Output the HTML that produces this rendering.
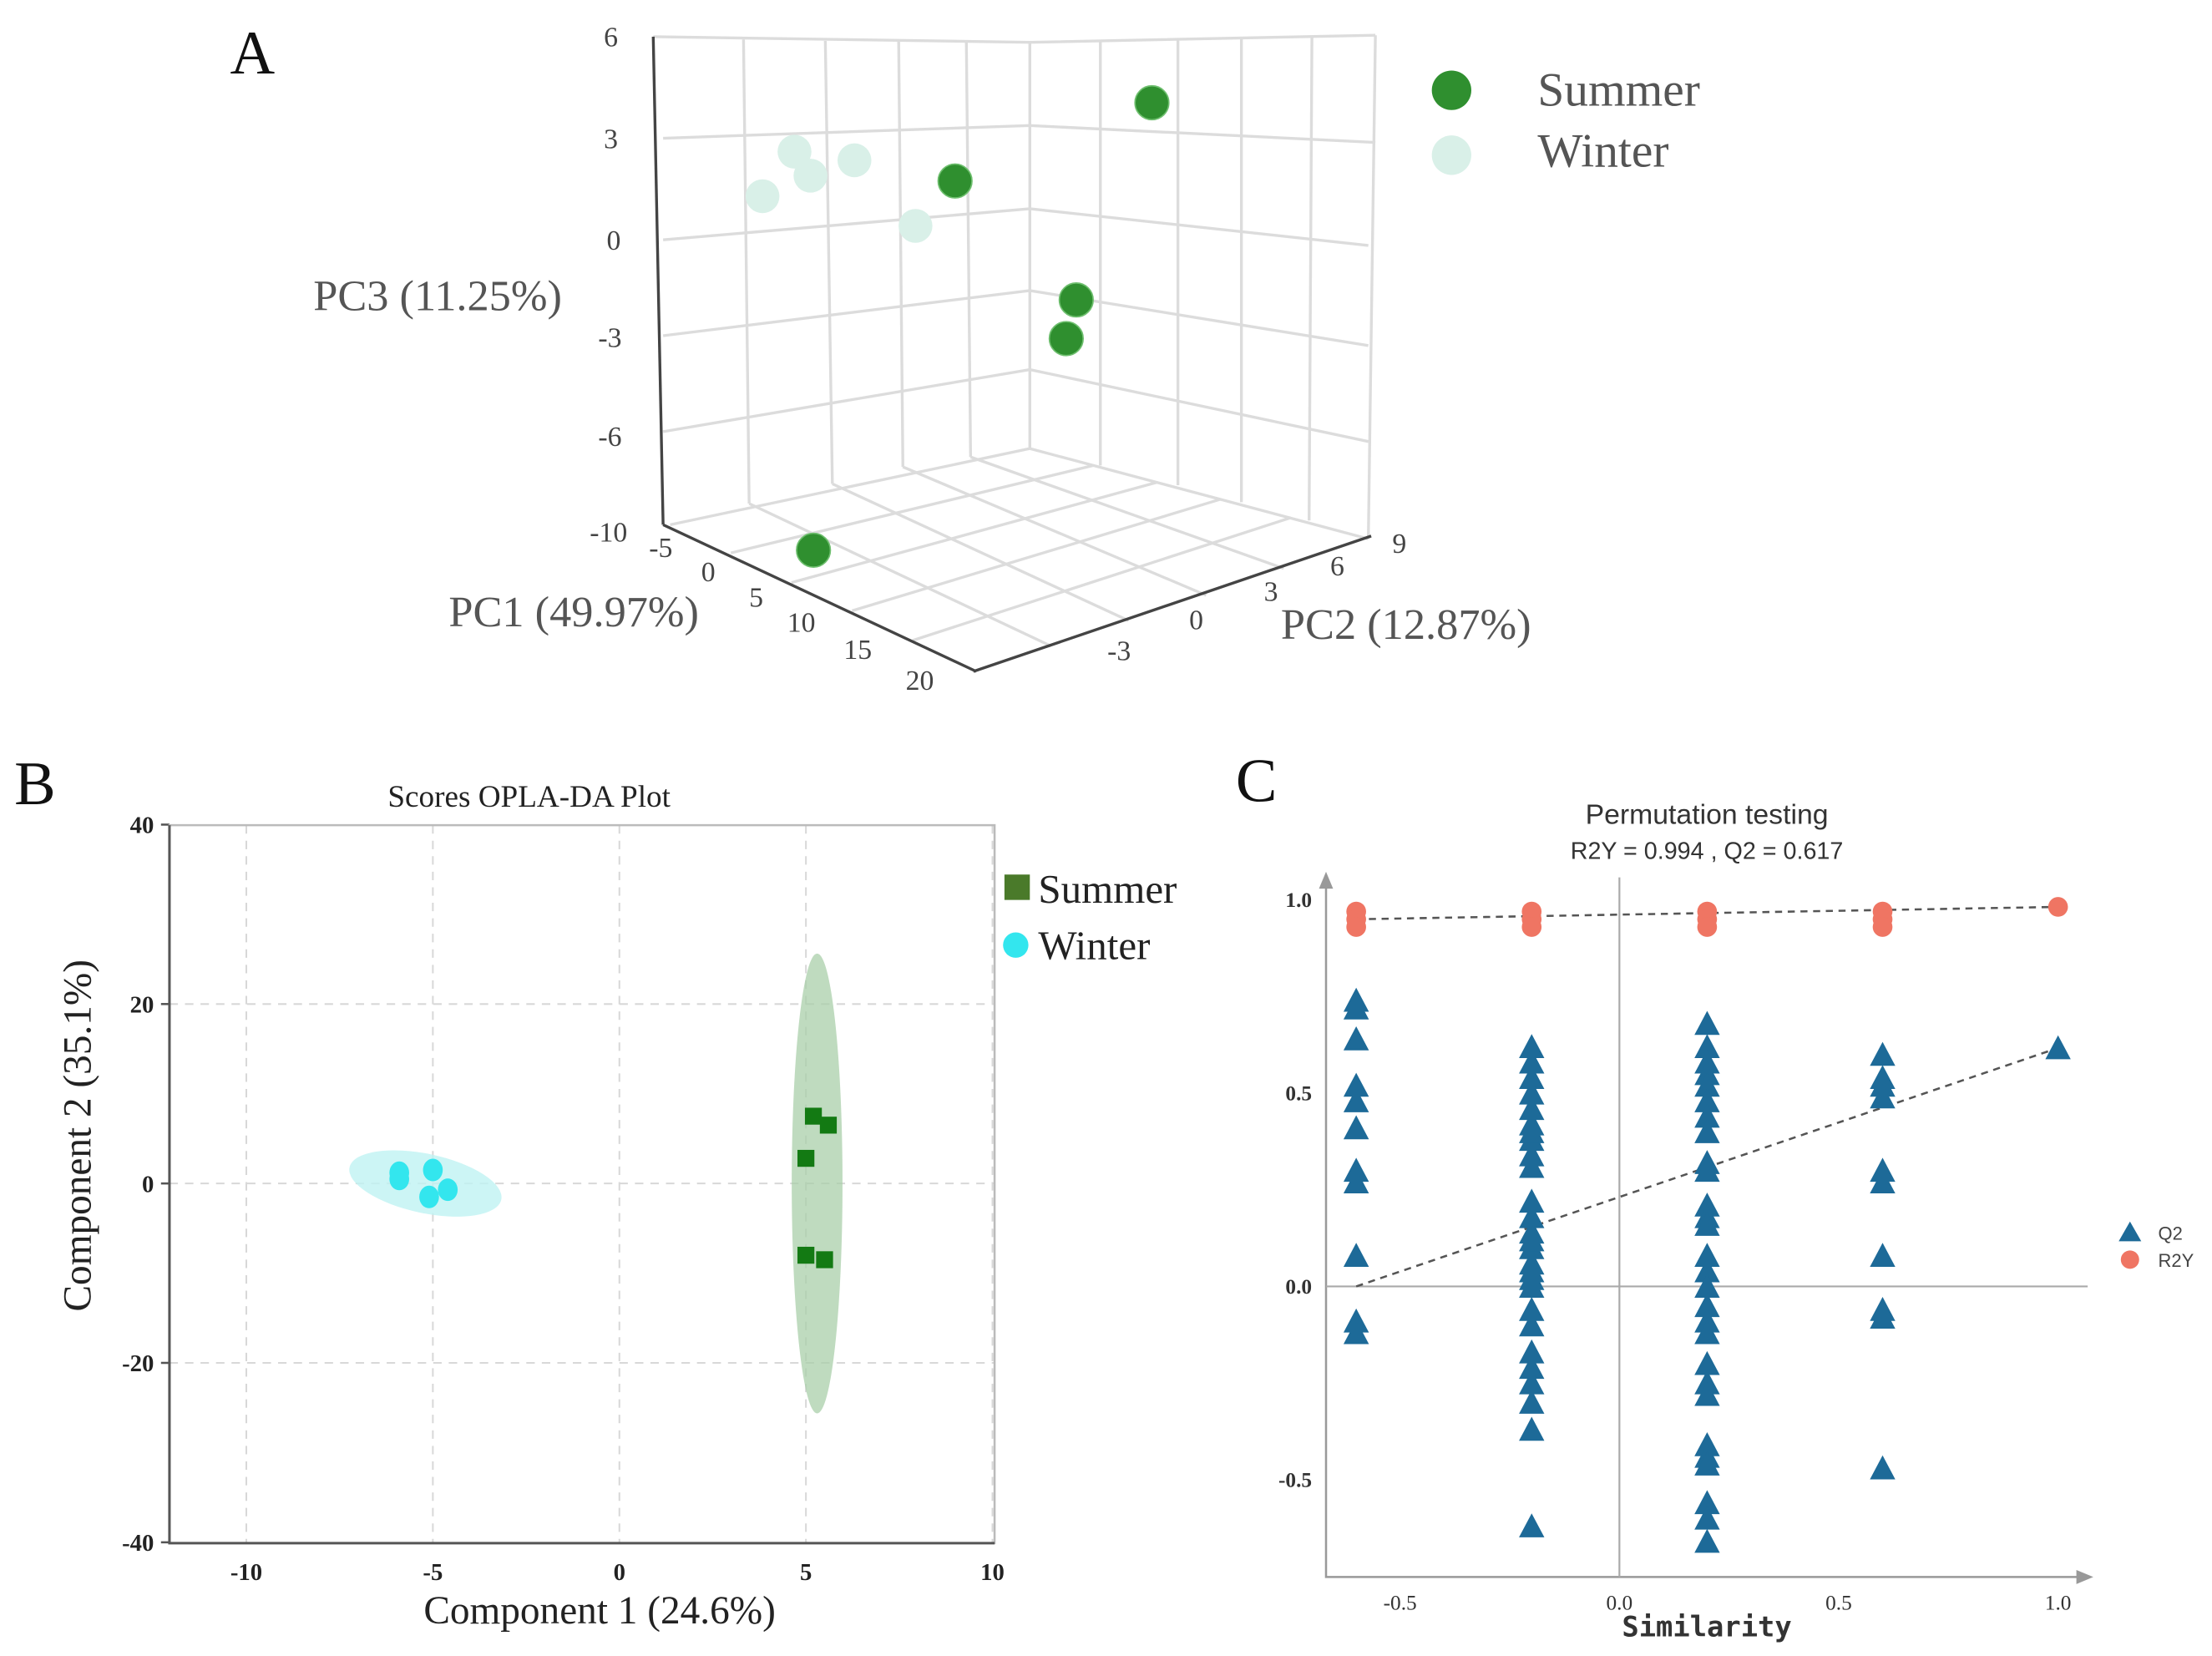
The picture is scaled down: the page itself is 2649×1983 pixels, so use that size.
<!DOCTYPE html>
<html><head><meta charset="utf-8"><style>
html,body{margin:0;padding:0;background:#fff}
svg{display:block}
.serif{font-family:"Liberation Serif",serif}
.sans{font-family:"Liberation Sans",sans-serif}
</style></head><body>
<svg id="fig" xmlns="http://www.w3.org/2000/svg" width="2649" height="1983" viewBox="0 0 1568 1174">
<rect x="0" y="0" width="1568" height="1174" fill="#fff"/>
<g id="panelA">
<text x="163" y="52" class="serif" font-size="44" fill="#111">A</text>
<g stroke="#dcdcdc" stroke-width="2" fill="none">
<polyline points="463,26 730,30 975,25"/>
<polyline points="470,98 730,89 975,101"/>
<polyline points="470,170 730,148 970,174"/>
<polyline points="470,238 730,206 970,245"/>
<polyline points="470,306 730,262 970,313"/>
<line x1="730" y1="30" x2="730" y2="318"/>
<line x1="975" y1="25" x2="970" y2="382"/>
<line x1="527" y1="28" x2="531" y2="357"/><line x1="585" y1="29" x2="590" y2="343"/>
<line x1="637" y1="29" x2="640" y2="331"/><line x1="685" y1="30" x2="688" y2="324"/>
<line x1="780" y1="29" x2="780" y2="330"/><line x1="835" y1="28" x2="835" y2="344"/>
<line x1="880" y1="27" x2="880" y2="356"/><line x1="930" y1="26" x2="928" y2="369"/>
<polyline points="475,372 730,318 970,382"/>
<line x1="518" y1="392" x2="775" y2="330"/><line x1="561" y1="413" x2="820" y2="342"/>
<line x1="604" y1="433" x2="865" y2="354"/><line x1="647" y1="454" x2="915" y2="367"/>
<line x1="531" y1="357" x2="745" y2="458"/><line x1="590" y1="343" x2="800" y2="440"/>
<line x1="640" y1="331" x2="855" y2="422"/><line x1="688" y1="324" x2="910" y2="403"/>
</g>
<g stroke="#444" stroke-width="2" fill="none">
<line x1="463" y1="26" x2="470" y2="372"/>
<line x1="470" y1="372" x2="692" y2="476"/>
<line x1="690" y1="476" x2="972" y2="380"/>
</g>
<g class="serif" font-size="20" fill="#444">
<text x="428" y="33">6</text><text x="428" y="105">3</text><text x="430" y="177">0</text>
<text x="424" y="246">-3</text><text x="424" y="316">-6</text><text x="418" y="384">-10</text>
</g>
<g class="serif" font-size="20" fill="#444">
<text x="460" y="395">-5</text><text x="497" y="412">0</text><text x="531" y="430">5</text>
<text x="558" y="448">10</text><text x="598" y="467">15</text><text x="642" y="489">20</text>
</g>
<g class="serif" font-size="20" fill="#444">
<text x="785" y="468">-3</text><text x="843" y="446">0</text><text x="896" y="426">3</text>
<text x="943" y="408">6</text><text x="987" y="392">9</text>
</g>
<text x="222" y="220" class="serif" font-size="31" fill="#555">PC3 (11.25%)</text>
<text x="318" y="444" class="serif" font-size="31" fill="#555">PC1 (49.97%)</text>
<text x="908" y="453" class="serif" font-size="31" fill="#555">PC2 (12.87%)</text>
<g id="pointsA"></g>
<circle cx="1029" cy="64" r="14" fill="#2f8f2f"/>
<text x="1090" y="75" class="serif" font-size="34" fill="#555">Summer</text>
<circle cx="1029" cy="110" r="14" fill="#d9f0e8"/>
<text x="1090" y="118" class="serif" font-size="34" fill="#555">Winter</text>
</g>

<g id="panelB">
<text x="10" y="570" class="serif" font-size="44" fill="#111">B</text>
<text x="375" y="572" text-anchor="middle" class="serif" font-size="22" fill="#222">Scores OPLA-DA Plot</text>
<g id="gB"></g>
<text transform="translate(64,805) rotate(-90)" text-anchor="middle" class="serif" font-size="28" fill="#222">Component 2 (35.1%)</text>
<text x="425" y="1151" text-anchor="middle" class="serif" font-size="28" fill="#222">Component 1 (24.6%)</text>
<rect x="712" y="620" width="18" height="18" fill="#4a7a2a"/>
<text x="736" y="640" class="serif" font-size="29" fill="#222">Summer</text>
<circle cx="720" cy="670" r="9" fill="#33e6ee"/>
<text x="736" y="680" class="serif" font-size="29" fill="#222">Winter</text>
</g>

<g id="panelC">
<text x="876" y="568" class="serif" font-size="44" fill="#111">C</text>
<text x="1210" y="584" text-anchor="middle" class="sans" font-size="20" fill="#333">Permutation testing</text>
<text x="1210" y="609" text-anchor="middle" class="sans" font-size="17" fill="#333">R2Y = 0.994 ,  Q2 = 0.617</text>
<g id="gC"></g>
<text x="1210" y="1160" text-anchor="middle" font-family="'DejaVu Sans Mono','Liberation Mono',monospace" font-weight="bold" font-size="20" fill="#333">Similarity</text>
<polygon points="1502,880 1518,880 1510,866" fill="#1d6a98"/>
<text x="1530" y="879" class="sans" font-size="13" fill="#444">Q2</text>
<circle cx="1510" cy="893" r="6.5" fill="#ef7563"/>
<text x="1530" y="898" class="sans" font-size="13" fill="#444">R2Y</text>
</g>
</svg>
<script>
var NS="http://www.w3.org/2000/svg";
function mk(tag,attrs,parent){var e=document.createElementNS(NS,tag);for(var k in attrs)e.setAttribute(k,attrs[k]);parent.appendChild(e);return e;}

var summerPC1=[10,10,12,12,5];
var summerPC2=[6,-3.85,1,0.5,-7.9];
var summerPC3=[4.6,3.4,-0.8,-2,-9.1];
var winterPC1=[-2,-2,-2,-2,0];
var winterPC2=[-4.6,-3.8,-1.6,-6.2,0.24];
var winterPC3=[2.2,1.3,1.5,0.96,-0.53];
function projX(a,b,c){return 475+8.6*(a+5)+14.17*(b+9);}
function projY(a,b,c){return 372+4.08*(a+5)-3*(b+9)-21.6*(c+10);}
var gA=document.getElementById('pointsA');
for(var i=0;i<winterPC1.length;i++){
 var c=mk('circle',{cx:projX(winterPC1[i],winterPC2[i],winterPC3[i]),cy:projY(winterPC1[i],winterPC2[i],winterPC3[i]),r:12,fill:'#d9f0e8'},gA);
 
 
}
for(var i=0;i<summerPC1.length;i++){
 var c=mk('circle',{cx:projX(summerPC1[i],summerPC2[i],summerPC3[i]),cy:projY(summerPC1[i],summerPC2[i],summerPC3[i]),r:12,fill:'#2f8f2f',stroke:'#6fbf6f','stroke-width':1},gA);
 
 
}

var bXTicks=[-10,-5,0,5,10];
var bYTicks=[40,20,0,-20,-40];
var bSummerX=[5.2,5.6,5.0,5.0,5.5];
var bSummerY=[7.5,6.5,2.8,-8,-8.5];
var bWinterX=[-5.9,-5.9,-5.0,-5.1,-4.6];
var bWinterY=[0.5,1.2,1.5,-1.5,-0.7];
function bx(v){return 439+(v)*26.45;}
function by(v){return 839-v*6.36;}
var gB=document.getElementById('gB');
bXTicks.forEach(function(t){
 var l=mk('line',{x1:bx(t),y1:585,x2:bx(t),y2:1094,stroke:'#d8d8d8','stroke-dasharray':'6,5','stroke-width':1.2},gB);
 
 
 var tx=mk('text',{x:bx(t),y:1120,'text-anchor':'middle','font-family':'Liberation Serif,serif','font-weight':'bold','font-size':17,fill:'#222'},gB);
 tx.textContent=t;
 
 
});
bYTicks.forEach(function(t){
 if(t!==40&&t!==-40){var l=mk('line',{x1:120,y1:by(t),x2:705,y2:by(t),stroke:'#d8d8d8','stroke-dasharray':'6,5','stroke-width':1.2},gB);
 
 }
 var tk=mk('line',{x1:114,y1:by(t),x2:120,y2:by(t),stroke:'#555','stroke-width':1.5},gB);
 
 
 var tx=mk('text',{x:109,y:by(t)+6,'text-anchor':'end','font-family':'Liberation Serif,serif','font-weight':'bold','font-size':17,fill:'#222'},gB);
 tx.textContent=t;
 
 
});
var fr=mk('rect',{x:120,y:585,width:585,height:509,fill:'none',stroke:'#bbb','stroke-width':1.5},gB);


var ax=mk('path',{d:'M120,585 V1094 H705',fill:'none',stroke:'#555','stroke-width':1.8},gB);


var e1=mk('ellipse',{cx:bx(5.3),cy:by(0),rx:18,ry:163,fill:'#a9cfa9','fill-opacity':0.75},gB);


var e2=mk('ellipse',{cx:bx(-5.2),cy:by(0),rx:55,ry:21,fill:'#bff3f3','fill-opacity':0.8,transform:'rotate(12 '+bx(-5.2)+' '+by(0)+')'},gB);


for(var i=0;i<bSummerX.length;i++){
 var r=mk('rect',{x:bx(bSummerX[i])-6,y:by(bSummerY[i])-6,width:12,height:12,fill:'#137a13'},gB);
 
 
}
for(var i=0;i<bWinterX.length;i++){
 var c=mk('ellipse',{cx:bx(bWinterX[i]),cy:by(bWinterY[i]),rx:7,ry:8,fill:'#33e6ee'},gB);
 
 
}

var cXTicks=[-0.5,0.0,0.5,1.0];
var cYTicks=[1.0,0.5,0.0,-0.5];
var cXLabels=['-0.5','0.0','0.5','1.0'];
var cYLabels=['1.0','0.5','0.0','-0.5'];
var r2yX=[-0.6,-0.6,-0.6,-0.2,-0.2,-0.2,0.2,0.2,0.2,0.6,0.6,0.6,1.0];
var r2yV=[0.97,0.95,0.93,0.97,0.95,0.93,0.97,0.95,0.93,0.97,0.95,0.93,0.982];
var q2X=[-0.6,-0.6,-0.6,-0.6,-0.6,-0.6,-0.6,-0.6,-0.6,-0.6,-0.6,
 -0.2,-0.2,-0.2,-0.2,-0.2,-0.2,-0.2,-0.2,-0.2,-0.2,-0.2,-0.2,-0.2,-0.2,-0.2,-0.2,-0.2,-0.2,-0.2,-0.2,-0.2,-0.2,-0.2,-0.2,-0.2,-0.2,-0.2,
 0.2,0.2,0.2,0.2,0.2,0.2,0.2,0.2,0.2,0.2,0.2,0.2,0.2,0.2,0.2,0.2,0.2,0.2,0.2,0.2,0.2,0.2,0.2,0.2,0.2,0.2,0.2,0.2,
 0.6,0.6,0.6,0.6,0.6,0.6,0.6,0.6,0.6,0.6,1.0];
var q2V=[0.74,0.72,0.64,0.52,0.48,0.41,0.3,0.27,0.08,-0.09,-0.12,
 0.62,0.58,0.54,0.5,0.46,0.42,0.38,0.34,0.31,0.22,0.18,0.14,0.1,0.06,0.02,0,-0.06,-0.1,-0.17,-0.21,-0.25,-0.3,-0.37,-0.62,0.4,0.12,0.04,
 0.68,0.62,0.58,0.55,0.52,0.48,0.44,0.4,0.32,0.3,0.21,0.18,0.16,0.08,0.04,0,-0.05,-0.09,-0.12,-0.2,-0.25,-0.28,-0.41,-0.44,-0.46,-0.56,-0.6,-0.66,
 0.6,0.54,0.52,0.49,0.3,0.27,0.08,-0.06,-0.08,-0.47,0.617];
function cx(v){return 1148+v*311;}
function cy(v){return 912-v*274;}
var gC=document.getElementById('gC');
var a1=mk('path',{d:'M940,628 V1118 H1474',fill:'none',stroke:'#999','stroke-width':1.5},gC);


var ar1=mk('polygon',{points:'935,630 945,630 940,618',fill:'#999'},gC);


var ar2=mk('polygon',{points:'1472,1113 1472,1123 1484,1118',fill:'#999'},gC);


var z1=mk('line',{x1:cx(0),y1:622,x2:cx(0),y2:1118,stroke:'#aaa','stroke-width':1.3},gC);


var z2=mk('line',{x1:940,y1:cy(0),x2:1480,y2:cy(0),stroke:'#aaa','stroke-width':1.3},gC);


cXTicks.forEach(function(t,i){
 var tx=mk('text',{x:cx(t),y:1141,'text-anchor':'middle','font-family':'Liberation Serif,serif','font-size':15,fill:'#333'},gC);
 tx.textContent=cXLabels[i];
 
 
});
cYTicks.forEach(function(t,i){
 var tx=mk('text',{x:930,y:cy(t)+5,'text-anchor':'end','font-family':'Liberation Serif,serif','font-weight':'bold','font-size':15,fill:'#333'},gC);
 tx.textContent=cYLabels[i];
 
 
});
var l1=mk('line',{x1:cx(-0.6),y1:cy(0.95),x2:cx(1.0),y2:cy(0.982),stroke:'#555','stroke-width':1.5,'stroke-dasharray':'5,4'},gC);


var l2=mk('line',{x1:cx(-0.6),y1:cy(0),x2:cx(1.0),y2:cy(0.617),stroke:'#555','stroke-width':1.5,'stroke-dasharray':'5,4'},gC);


for(var i=0;i<r2yX.length;i++){
 var c=mk('circle',{cx:cx(r2yX[i]),cy:cy(r2yV[i]),r:7,fill:'#ef7563'},gC);
 
 
}
for(var i=0;i<q2X.length;i++){
 var x=cx(q2X[i]),y=cy(q2V[i]);
 var p=mk('polygon',{points:(x-9)+','+(y+8)+' '+(x+9)+','+(y+8)+' '+x+','+(y-9),fill:'#1d6a98'},gC);
 
 
}
</script>
</body></html>
